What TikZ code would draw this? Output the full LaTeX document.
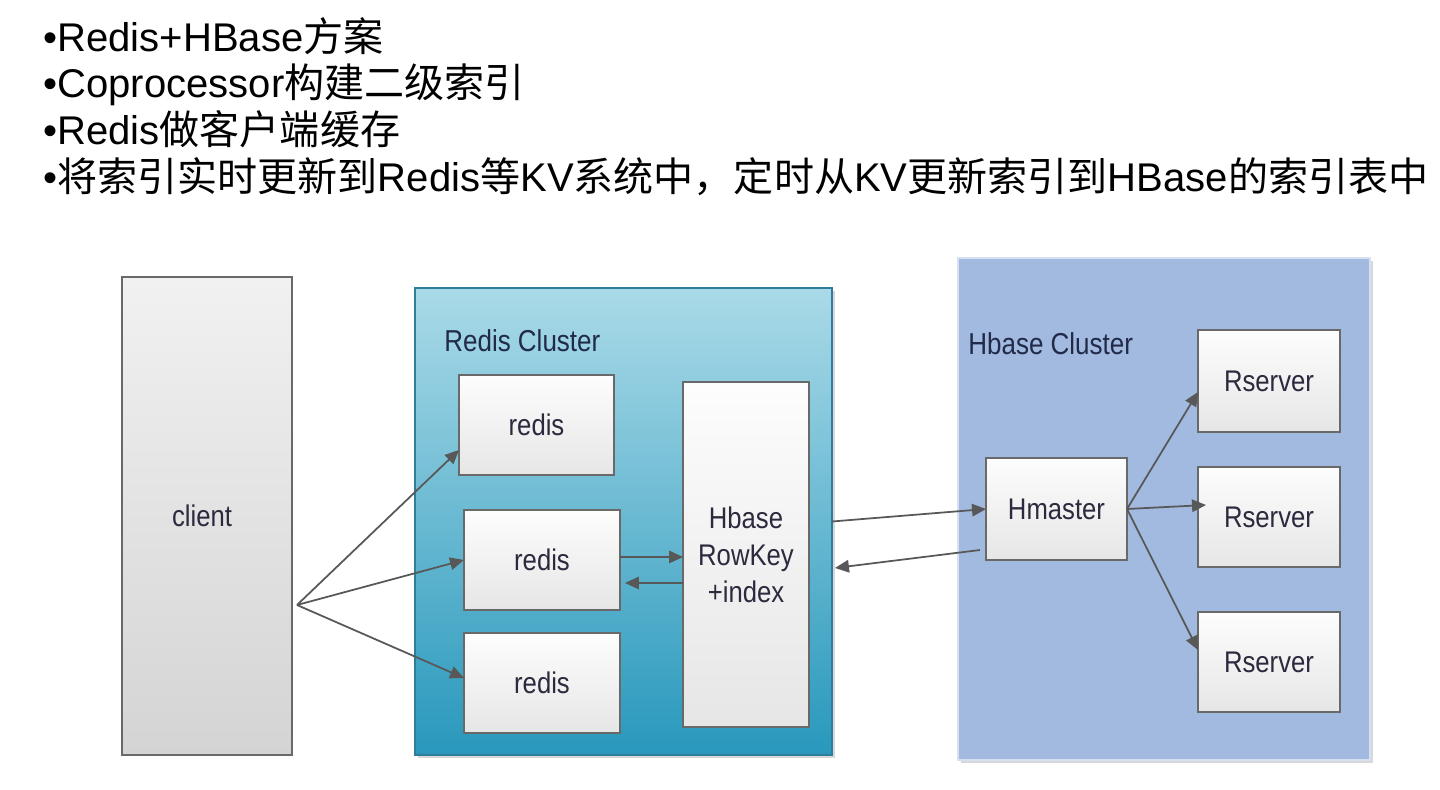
\documentclass[tikz,border=0pt]{standalone}
\usepackage{fontspec}
\setmainfont{Liberation Sans}
\newfontfamily\cjk{Noto Sans CJK SC}
\newfontfamily\diagfont[FakeStretch=0.86]{Liberation Sans}
\usepackage{tikz}
\usetikzlibrary{arrows.meta,positioning,shadows,backgrounds}
\definecolor{redistop}{RGB}{170,218,232}
\definecolor{redisbot}{RGB}{40,152,188}
\definecolor{redisedge}{RGB}{45,125,155}
\definecolor{hbasefill}{RGB}{162,186,224}
\definecolor{hbaseedge}{RGB}{214,224,240}
\definecolor{boxedge}{RGB}{105,105,105}
\definecolor{clienttop}{RGB}{241,241,241}
\definecolor{clientbot}{RGB}{212,212,212}
\definecolor{boxtop}{RGB}{253,253,253}
\definecolor{boxbot}{RGB}{230,230,230}
\definecolor{arrowgray}{RGB}{88,88,88}
\definecolor{labelnavy}{RGB}{33,42,72}
\definecolor{textgray}{RGB}{45,42,62}
\tikzset{
  titletxt/.style={anchor=base west, inner sep=0pt, font=\fontsize{22.8}{27}\selectfont, text=black},
  cluster/.style ={rectangle, inner sep=0pt, outer sep=0pt, line width=0.7pt},
  clbl/.style    ={anchor=base west, inner sep=0pt, text=labelnavy, font=\diagfont\fontsize{17.2}{20}\selectfont},
  sbox/.style    ={rectangle, draw=boxedge, line width=0.8pt, top color=boxtop, bottom color=boxbot,
                   inner sep=0pt, outer sep=0pt, align=center, text=textgray,
                   font=\diagfont\fontsize{17}{21}\selectfont},
  flow/.style    ={-{Triangle[length=2.8mm,width=2.5mm]}, line width=1pt, draw=arrowgray}
}

\begin{document}
\begin{tikzpicture}[x=0.02cm, y=-0.02cm]
\fill[white] (0,0) rectangle (1440,790);
\useasboundingbox (0,0) rectangle (1440,790);

% ---- Title lines ----
\node[titletxt] (tA) at (43,52) {•Redis+HBase\cjk 方案};
\node[titletxt] (tB) at (43,98) {•Coprocessor\cjk 构建二级索引};
\node[titletxt] (tC) at (43,145) {•Redis\cjk 做客户端缓存};
\node[titletxt] (tD) at (43,192) {•{\cjk 将索引实时更新到}Redis{\cjk 等}KV{\cjk 系统中，定时从}KV{\cjk 更新索引到}HBase{\cjk 的索引表中}};

% ---- Clusters ----
\node[cluster, draw=redisedge, top color=redistop, bottom color=redisbot,
      minimum width=8.34cm, minimum height=9.34cm,
      drop shadow={shadow xshift=0.06cm, shadow yshift=-0.06cm, opacity=0.3}] (rcluster) at (623.5,521.5) {};
\node[clbl] (rlabel) at (444,352) {Redis Cluster};
\node[cluster, draw=hbaseedge, fill=hbasefill,
      minimum width=8.24cm, minimum height=10.04cm,
      drop shadow={shadow xshift=0.06cm, shadow yshift=-0.06cm, opacity=0.3}] (hcluster) at (1164,509) {};
\node[clbl] (hlabel) at (968,355) {Hbase Cluster};

% ---- Client ----
\node[sbox, top color=clienttop, bottom color=clientbot, minimum width=3.4cm, minimum height=9.56cm] (client) at (207,516) {client\hspace*{0.2cm}};
\coordinate (cfan) at (297,605);

% ---- Redis side ----
\node[sbox, minimum width=3.1cm, minimum height=2.0cm] (redisA) at (536.5,425) {redis};
\node[sbox, minimum width=3.12cm, minimum height=2.0cm] (redisB) at (542,560) {redis};
\node[sbox, minimum width=3.12cm, minimum height=2.0cm] (redisC) at (542,683) {redis};
\node[sbox, minimum width=2.52cm, minimum height=6.9cm] (rowkey) at (746,554.5) {Hbase\\RowKey\\+index};

% ---- Hbase side ----
\node[sbox, minimum width=2.82cm, minimum height=2.04cm] (hmaster) at (1056.5,509) {Hmaster};
\node[sbox, minimum width=2.84cm, minimum height=2.04cm] (rsA) at (1269,381) {Rserver};
\node[sbox, minimum width=2.84cm, minimum height=2.0cm] (rsB) at (1269,517) {Rserver};
\node[sbox, minimum width=2.84cm, minimum height=2.0cm] (rsC) at (1269,662) {Rserver};

% ---- Edges ----
\draw[flow] (cfan) -- ([yshift=-0.5cm]redisA.west);
\draw[flow] (cfan) -- (redisB.west);
\draw[flow] (cfan) -- ([yshift=0.1cm]redisC.west);
\draw[flow] ([yshift=0.06cm]redisB.east) -- ([yshift=0.06cm]redisB.east -| rowkey.west);
\draw[flow] ([yshift=-0.46cm]redisB.east -| rowkey.west) -- ([xshift=0.1cm,yshift=-0.46cm]redisB.east);
\draw[flow] (rcluster.east) -- (hmaster.west);
\draw[flow] ([xshift=-0.12cm,yshift=-0.82cm]hmaster.west) -- ([xshift=0.06cm,yshift=-0.93cm]rcluster.east);
\draw[flow] (hmaster.east) -- ([yshift=-0.22cm]rsA.west);
\draw[flow] (hmaster.east) -- ([xshift=0.16cm,yshift=0.24cm]rsB.west);
\draw[flow] (hmaster.east) -- ([yshift=0.24cm]rsC.west);
\end{tikzpicture}
\end{document}
